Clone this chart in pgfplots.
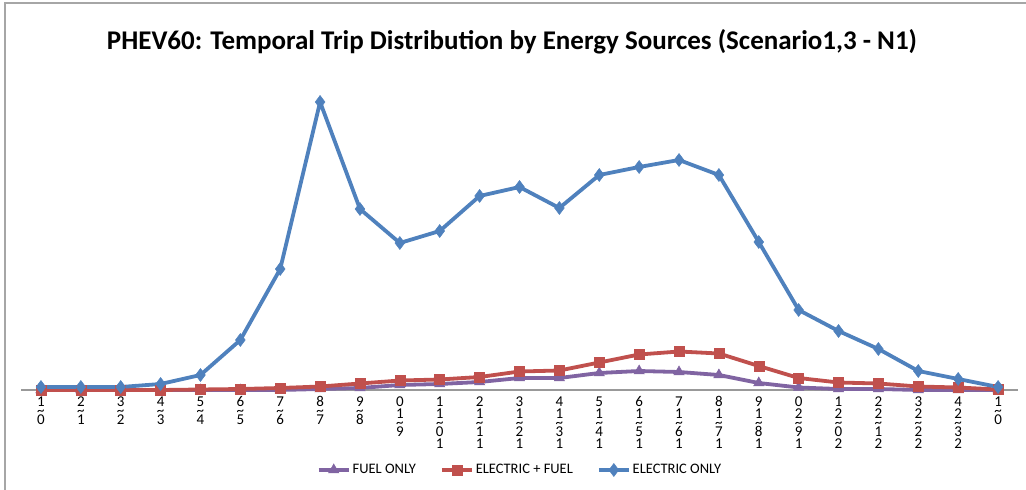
\documentclass[border=0pt]{standalone}
\usepackage{pgfplots}
\pgfplotsset{compat=1.18}
\usepackage{fontspec}
\setmainfont{Carlito}

\definecolor{fuelonly}{HTML}{8064A2}
\definecolor{elecfuel}{HTML}{C0504D}
\definecolor{eleconly}{HTML}{4F81BD}

% stacked (vertical) tick labels as in the source sheet
\newcommand\T{\raisebox{3pt}[0pt][0pt]{\textasciitilde}}
\newcommand\Two[2]{#1\\\T\\[-6pt]#2}
\newcommand\Three[3]{#1\\#2\\\T\\[-6pt]#3}
\newcommand\Four[4]{#1\\#2\\\T\\[-6pt]#3\\#4}

\begin{document}
\begin{tikzpicture}[x=1pt,y=1pt]
\useasboundingbox (0,0) rectangle (1026,490);
\draw[gray!70, line width=1.8pt] (5,-5) -- (5,487) -- (1030,487);
\node[font=\fontsize{27}{30}\selectfont\bfseries] at (512,448)
  {PHEV60: Temporal Trip Distribution by Energy Sources (Scenario1,3 - N1)};
\begin{axis}[
    at={(21pt,100pt)}, anchor=south west,
    scale only axis, width=997pt, height=310pt,
    xmin=0.5, xmax=25.5, ymin=0, ymax=310,
    axis y line=none,
    axis x line*=bottom,
    x axis line style={gray!80, line width=1.5pt},
    xtick={1,...,25},
    major tick length=0pt,
    xticklabels={
      {\Two{1}{0}},{\Two{2}{1}},{\Two{3}{2}},{\Two{4}{3}},{\Two{5}{4}},
      {\Two{6}{5}},{\Two{7}{6}},{\Two{8}{7}},{\Two{9}{8}},
      {\Three{0}{1}{9}},
      {\Four{1}{1}{0}{1}},{\Four{2}{1}{1}{1}},{\Four{3}{1}{2}{1}},
      {\Four{4}{1}{3}{1}},{\Four{5}{1}{4}{1}},{\Four{6}{1}{5}{1}},
      {\Four{7}{1}{6}{1}},{\Four{8}{1}{7}{1}},{\Four{9}{1}{8}{1}},
      {\Four{0}{2}{9}{1}},{\Four{1}{2}{0}{2}},{\Four{2}{2}{1}{2}},
      {\Four{3}{2}{2}{2}},{\Four{4}{2}{3}{2}},
      {\Two{1}{0}}},
    xticklabel style={align=center, anchor=north, yshift=-3pt,
      font=\fontsize{15}{12}\selectfont},
    clip=false,
    legend columns=3,
    legend style={at={(0.5005,-0.258)}, anchor=center, draw=none,
      font=\fontsize{14.5}{16}\selectfont,
      /tikz/every even column/.append style={column sep=22pt}},
    legend image code/.code={
      \draw[mark repeat=2, mark phase=2, #1]
        plot coordinates {(0pt,0pt) (15pt,0pt) (30pt,0pt)};},
]

% FUEL ONLY
\addplot[color=fuelonly, line width=3.8pt, mark=triangle*,
    mark size=6pt, mark options={solid, fill=fuelonly, line width=0.5pt}]
  coordinates {(1,0)(2,0)(3,0)(4,0)(5,0)(6,0)(7,0)(8,1)(9,2)(10,5)
    (11,6)(12,8)(13,12)(14,12)(15,17)(16,19)(17,18)(18,15)(19,7)
    (20,2.5)(21,1)(22,1)(23,0)(24,0)(25,0)};
\addlegendentry{FUEL ONLY}

% ELECTRIC + FUEL
\addplot[color=elecfuel, line width=3.8pt, mark=square*,
    mark size=5pt, mark options={solid, fill=elecfuel, line width=0.5pt}]
  coordinates {(1,0)(2,0)(3,0)(4,0)(5,0.5)(6,1)(7,2)(8,3.5)(9,6.5)
    (10,9.5)(11,10.5)(12,13)(13,18.5)(14,19.5)(15,27.5)(16,35.5)
    (17,38.5)(18,36.5)(19,24)(20,12)(21,7.5)(22,6.5)(23,3.5)(24,2.5)(25,0.5)};
\addlegendentry{ELECTRIC + FUEL}

% ELECTRIC ONLY
\addplot[color=eleconly, line width=3.8pt, mark=diamond*,
    mark size=6.5pt, mark options={solid, fill=eleconly, line width=0.5pt}]
  coordinates {(1,3)(2,3)(3,3)(4,6)(5,15)(6,50)(7,121)(8,288)(9,181)
    (10,147)(11,159)(12,194)(13,203)(14,182)(15,215)(16,223)(17,230)
    (18,215)(19,148)(20,80)(21,59)(22,41)(23,19)(24,11)(25,3)};
\addlegendentry{ELECTRIC ONLY}

\end{axis}
\end{tikzpicture}
\end{document}
